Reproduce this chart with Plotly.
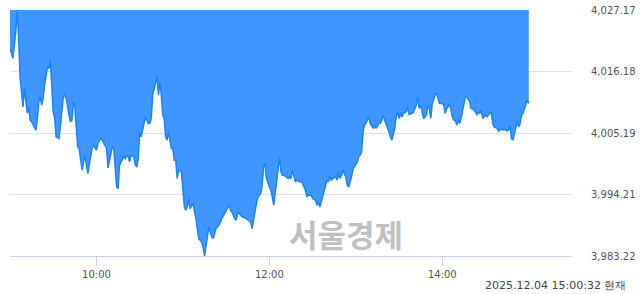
import pandas as pd
import plotly.graph_objects as go

# minutes after 09:00 on 2025-12-04
minutes = [
    0, 1, 2, 4, 5, 6, 7, 8, 9, 10,
    12, 13, 14, 15, 16, 18, 19, 20, 21, 22,
    23, 24, 26, 27, 28, 29, 30, 31, 32, 34,
    35, 36, 37, 38, 39, 41, 42, 43, 44, 45,
    46, 47, 48, 49, 50, 52, 53, 54, 55, 56,
    57, 58, 60, 61, 63, 64, 65, 67, 68, 69,
    71, 72, 74, 75, 76, 77, 79, 80, 81, 82,
    83, 84, 86, 87, 88, 89, 90, 91, 93, 94,
    95, 96, 97, 98, 99, 101, 102, 103, 104, 105,
    106, 107, 108, 109, 110, 112, 113, 114, 115, 116,
    117, 119, 120, 121, 122, 123, 124, 125, 127, 128,
    129, 130, 131, 133, 134, 135, 137, 138, 140, 141,
    143, 145, 147, 149, 150, 152, 153, 154, 156, 157,
    158, 160, 161, 163, 165, 167, 168, 169, 170, 171,
    172, 174, 175, 176, 177, 178, 180, 181, 182, 183,
    185, 186, 187, 188, 189, 190, 192, 193, 194, 195,
    196, 197, 198, 199, 201, 202, 203, 205, 206, 207,
    209, 210, 212, 213, 214, 215, 216, 217, 219, 220,
    221, 222, 223, 224, 226, 227, 228, 229, 230, 231,
    233, 234, 235, 236, 237, 238, 239, 241, 242, 243,
    244, 245, 246, 247, 249, 250, 251, 252, 253, 254,
    256, 257, 258, 259, 260, 261, 262, 263, 264, 265,
    267, 268, 269, 270, 271, 272, 273, 275, 276, 277,
    278, 279, 280, 282, 283, 284, 285, 286, 287, 289,
    290, 291, 292, 293, 294, 295, 296, 297, 298, 300,
    301, 302, 303, 304, 305, 307, 308, 309, 310, 311,
    312, 313, 314, 316, 317, 318, 319, 320, 321, 323,
    324, 325, 326, 327, 328, 330, 331, 332, 333, 334,
    335, 336, 338, 339, 340, 341, 342, 343, 345, 346,
    347, 348, 349, 350, 352, 353, 354, 355, 356, 357,
    359, 360,
]

kospi = [
    4020.32, 4019.12, 4018.53, 4023.29, 4027.17, 4022.16, 4015.01, 4012.56, 4009.87, 4013.16,
    4008.75, 4009.87, 4007.49, 4007.19, 4006.60, 4005.70, 4007.85, 4010.77, 4011.66, 4010.18,
    4011.37, 4013.75, 4017.03, 4016.74, 4018.23, 4014.34, 4008.98, 4007.80, 4004.51, 4004.22,
    4006.60, 4008.39, 4011.66, 4011.97, 4011.37, 4008.39, 4007.19, 4007.49, 4010.77, 4009.87,
    4006.60, 4002.72, 4002.43, 4000.34, 3998.55, 4001.23, 3999.44, 3997.96, 3999.44, 4000.93,
    4002.54, 4003.02, 4002.13, 4003.33, 4004.33, 4003.92, 4003.33, 4002.43, 3998.96, 4000.03,
    4002.72, 4002.54, 3995.56, 3995.28, 3999.44, 4000.03, 4000.93, 4000.64, 4001.23, 4000.93,
    4000.03, 4001.23, 4000.93, 3999.44, 3999.14, 4000.64, 4005.40, 4004.51, 4006.60, 4008.08,
    4007.49, 4006.90, 4006.90, 4007.80, 4011.97, 4014.34, 4015.24, 4011.97, 4014.34, 4011.97,
    4008.39, 4007.80, 4004.51, 4003.92, 4005.40, 4002.43, 4002.43, 4000.34, 4000.34, 3997.06,
    3998.55, 3998.24, 3994.08, 3991.98, 3991.39, 3991.98, 3993.49, 3991.70, 3992.59, 3991.39,
    3989.91, 3988.12, 3986.33, 3985.72, 3984.83, 3983.22, 3986.33, 3988.41, 3986.62, 3986.33,
    3988.12, 3988.71, 3989.91, 3990.80, 3991.39, 3992.29, 3991.39, 3991.09, 3989.91, 3989.61,
    3991.09, 3990.50, 3990.20, 3990.02, 3989.61, 3989.30, 3988.12, 3989.91, 3991.39, 3992.59,
    3993.77, 3994.38, 3995.87, 3999.14, 3999.75, 3997.06, 3995.56, 3994.97, 3993.77, 3992.29,
    3996.46, 3999.44, 4000.93, 3998.24, 3997.65, 3997.65, 3997.35, 3997.06, 3997.35, 3997.06,
    3998.55, 3997.35, 3996.46, 3996.76, 3996.46, 3996.58, 3996.17, 3994.97, 3993.77, 3994.08,
    3994.08, 3993.49, 3993.18, 3992.29, 3992.88, 3991.98, 3992.88, 3994.08, 3995.87, 3996.76,
    3996.46, 3997.35, 3996.76, 3997.06, 3997.35, 3996.76, 3997.96, 3997.06, 3997.65, 3998.55,
    3997.35, 3995.87, 3995.56, 3996.46, 3997.35, 3998.85, 3999.14, 4000.03, 4000.93, 4001.23,
    4001.82, 4005.40, 4006.60, 4006.90, 4008.08, 4006.90, 4006.29, 4006.01, 4006.60, 4006.01,
    4006.90, 4006.90, 4007.49, 4008.39, 4007.49, 4006.90, 4006.29, 4005.40, 4004.51, 4003.92,
    4006.01, 4008.08, 4008.98, 4007.80, 4008.69, 4008.08, 4008.69, 4008.98, 4009.87, 4008.39,
    4008.69, 4008.69, 4008.98, 4010.18, 4011.66, 4009.59, 4010.18, 4008.98, 4007.80, 4008.39,
    4010.18, 4009.59, 4007.80, 4010.48, 4011.37, 4011.97, 4012.27, 4011.07, 4010.48, 4010.48,
    4010.18, 4008.69, 4009.59, 4009.87, 4010.48, 4008.08, 4007.49, 4007.49, 4006.60, 4007.49,
    4006.90, 4007.80, 4008.98, 4011.66, 4011.66, 4011.07, 4010.77, 4009.59, 4009.59, 4008.98,
    4008.39, 4008.98, 4008.69, 4009.28, 4007.80, 4008.39, 4008.08, 4008.39, 4008.69, 4008.98,
    4006.90, 4006.29, 4006.01, 4005.53, 4005.70, 4006.01, 4005.70, 4005.83, 4005.58, 4005.70,
    4006.60, 4004.22, 4003.92, 4005.11, 4007.19, 4006.29, 4006.90, 4008.39, 4008.69, 4009.59,
    4011.07, 4010.48,
]

y_ticks = [3983.22, 3994.21, 4005.19, 4016.18, 4027.17]
x_ticks = ["10:00", "12:00", "14:00"]
day = "2025-12-04"
session_start = "09:00"
session_end = "15:30"
caption = "2025.12.04 15:00:32 현재"
watermark = "서울경제"

assert len(minutes) == len(kospi)

t0 = pd.Timestamp(f"{day} {session_start}")
times = [t0 + pd.Timedelta(minutes=m) for m in minutes]
y_top = max(y_ticks)
y_bot = min(y_ticks)

fig = go.Figure()
fig.add_trace(go.Scatter(
    x=times, y=[y_top] * len(times), mode="lines",
    line=dict(width=0, color="rgba(0,0,0,0)"), hoverinfo="skip", showlegend=False,
))
fig.add_trace(go.Scatter(
    x=times, y=kospi, mode="lines",
    line=dict(color="#1a84ff", width=1.5),
    fill="tonexty", fillcolor="#4096ff",
    showlegend=False,
))

fig.update_layout(
    width=640, height=294,
    margin=dict(l=10, r=68, t=10, b=38),
    paper_bgcolor="white", plot_bgcolor="white",
    font=dict(family="DejaVu Sans", color="#555555"),
    xaxis=dict(
        type="date",
        range=[pd.Timestamp(f"{day} {session_start}"), pd.Timestamp(f"{day} {session_end}")],
        tickvals=[pd.Timestamp(f"{day} {t}") for t in x_ticks],
        ticktext=x_ticks,
        ticks="outside", ticklen=9, tickcolor="#c6d4ea", tickwidth=1,
        showline=True, linecolor="#c6d4ea", linewidth=1,
        showgrid=False, zeroline=False, automargin=False,
        tickfont=dict(family="DejaVu Sans", size=10, color="#555555"),
        fixedrange=True,
    ),
    yaxis=dict(
        side="right",
        range=[y_bot, y_top],
        tickvals=y_ticks,
        ticktext=[f"{v:,.2f}" for v in y_ticks],
        showgrid=True, gridcolor="#e2e2e2", gridwidth=1,
        zeroline=False, showline=False, automargin=False,
        ticks="", ticklabelstandoff=18,
        tickfont=dict(family="DejaVu Sans", size=10, color="#555555"),
        fixedrange=True,
    ),
    annotations=[
        dict(
            text=watermark, xref="paper", yref="paper",
            x=0.598, y=0.09, xanchor="center", yanchor="middle",
            showarrow=False,
            font=dict(family="Noto Sans CJK KR", size=31, color="#c0c0c0", weight="bold"),
        ),
        dict(
            text=caption, xref="paper", yref="paper",
            x=1.1, y=-0.118, xanchor="right", yanchor="middle",
            showarrow=False,
            font=dict(family="DejaVu Sans", size=11, color="#444444"),
        ),
    ],
)

fig.write_html("out.html")
